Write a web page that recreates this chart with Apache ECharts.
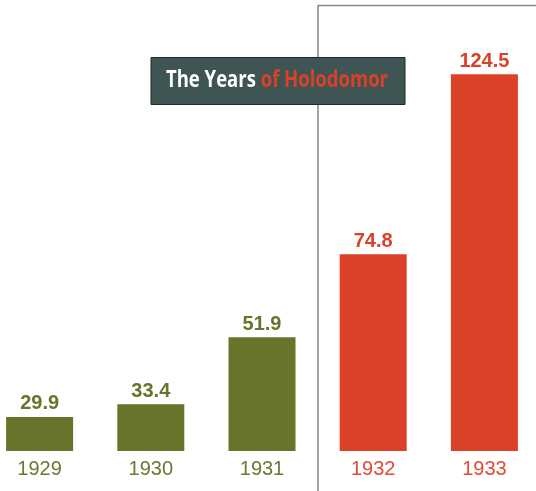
<!DOCTYPE html>
<html><head><meta charset="utf-8">
<script src="https://cdn.jsdelivr.net/npm/echarts@6/dist/echarts.min.js"></script>
<style>html,body{margin:0;padding:0;background:#fff}#c{width:536px;height:491px}</style>
</head><body><div id="c"></div>
<script>
const years = ['1929','1930','1931','1932','1933'];
const values = [29.9, 33.4, 51.9, 74.8, 124.5];
const titleParts = ['The Years ', 'of Holodomor'];
const barColors = ['#69732a','#69732a','#69732a','#db4029','#db4029'];
const yearColors = ['#6b7833','#6b7833','#6b7833','#e04a36','#e04a36'];
const TITLE_FONT = '"Open Sans", "Noto Sans", sans-serif';
const SANS = '"Liberation Sans", Arial, sans-serif';

// fit the condensed-looking title into its box width
const cv = document.createElement('canvas').getContext('2d');
cv.font = 'bold 24px "Open Sans"';
const tw = cv.measureText(titleParts.join('')).width;
const sx = 222 / tw;

const chart = echarts.init(document.getElementById('c'));
chart.setOption({
  animation: false,
  grid: { left: -16, right: -4, top: 5, bottom: 40, outerBoundsMode: 'none', containLabel: false },
  xAxis: {
    type: 'category', data: years,
    axisLine: { show: false }, axisTick: { show: false },
    axisLabel: {
      margin: 8, fontFamily: SANS, fontSize: 20,
      color: (v, i) => yearColors[i]
    }
  },
  yAxis: { type: 'value', min: 20.5, max: 143.6, show: false, splitLine: { show: false } },
  graphic: [{
    type: 'polyline',
    shape: { points: [[318, 491], [318, 5.5], [536, 5.5]] },
    style: { stroke: '#7d8b8b', lineWidth: 1.5, fill: null },
    z: 0
  }, {
    type: 'rect', x: 151, y: 57.5,
    shape: { width: 254, height: 47 },
    style: { fill: '#3e5553', stroke: '#1e2a2a', lineWidth: 1 },
    z: 10
  }, {
    type: 'text', x: 166, y: 80, scaleX: sx, scaleY: 1,
    style: {
      text: '{a|' + titleParts[0] + '}{b|' + titleParts[1] + '}',
      verticalAlign: 'middle', align: 'left',
      rich: {
        a: { fill: '#ffffff', color: '#ffffff', fontFamily: TITLE_FONT, fontWeight: 'bold', fontSize: 24 },
        b: { fill: '#db4029', color: '#db4029', fontFamily: TITLE_FONT, fontWeight: 'bold', fontSize: 24 }
      }
    },
    z: 11
  }],
  series: [{
    type: 'bar', barWidth: 67,
    data: values.map((v, i) => ({ value: v, itemStyle: { color: barColors[i] },
      label: { color: barColors[i] } })),
    label: {
      show: true, position: 'top', distance: 3,
      fontFamily: SANS, fontWeight: 'bold', fontSize: 20,
      formatter: p => p.value.toFixed(1)
    },
    z: 2
  }]
});
</script></body></html>
